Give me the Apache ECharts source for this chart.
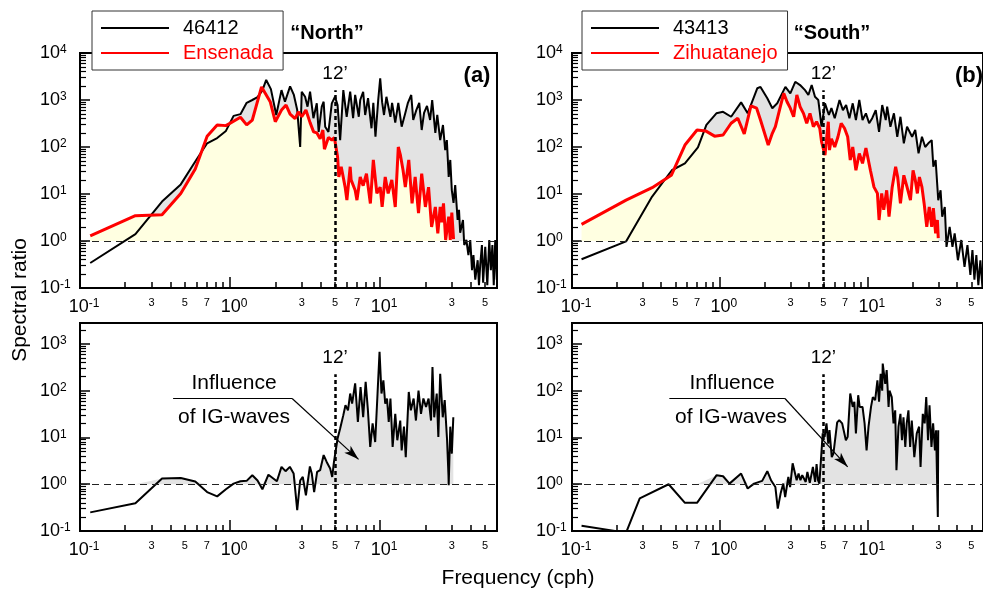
<!DOCTYPE html>
<html>
<head>
<meta charset="utf-8">
<script src="https://cdn.jsdelivr.net/npm/echarts@6/dist/echarts.min.js"></script>
<style>
  html, body { margin: 0; padding: 0; background: #fff; }
  #chart { width: 983px; height: 591px; }
</style>
</head>
<body>
<div id="chart"></div>
<script>
// spectra, [frequency (cph), spectral ratio]
const buoy46412 = [[0.117,0.34],[0.234,1.4],[0.352,6.9],[0.469,16],[0.586,49],[0.703,120],[0.82,155],[0.938,220],[1.055,460],[1.172,500],[1.289,870],[1.406,1000],[1.523,1150],[1.641,1600],[1.74,2670],[1.87,1700],[2.03,480],[2.2,1620],[2.32,920],[2.51,1950],[2.66,1280],[2.8,610],[2.93,100],[3.0,1500],[3.16,1170],[3.28,720],[3.41,1500],[3.59,410],[3.78,850],[3.89,210],[4.08,720],[4.2,920],[4.3,270],[4.52,210],[4.76,850],[5.0,1170],[5.2,780],[5.41,140],[5.68,1620],[5.98,440],[6.31,1500],[6.6,410],[6.81,1280],[7.2,440],[7.36,1000],[7.7,1500],[7.94,480],[8.3,1100],[8.75,250],[9.0,870],[9.3,165],[9.7,1000],[10.0,2900],[10.3,900],[10.6,480],[11.0,1170],[11.7,440],[12.0,870],[12.6,330],[13.2,870],[13.9,270],[14.7,530],[15.3,870],[16.1,1280],[16.6,375],[17.4,610],[18.2,870],[18.9,230],[19.6,530],[20.5,750],[21.5,375],[22.2,1000],[23.3,200],[24.0,480],[25.1,140],[26.2,293],[27.1,86],[27.8,140],[28.6,23],[29.3,53],[30.0,12],[30.8,6.5],[31.6,15.5],[32.8,2.8],[33.5,4.6],[34.1,1.5],[35.6,2.8],[36.3,0.82],[37.5,1.05],[38.7,0.5],[39.8,1.05],[40.9,0.24],[41.8,0.5],[43.0,0.15],[44.6,0.39],[45.5,0.115],[46.4,0.31],[47.6,0.82],[48.5,0.13],[50.1,0.75],[51.7,0.115],[53.3,1.05],[54.6,0.24],[55.9,0.82],[57.1,0.115],[58.4,1.05],[59.8,0.15]];
const ensenada = [[0.117,1.28],[0.234,3.46],[0.352,3.6],[0.469,10.3],[0.586,34],[0.703,170],[0.82,295],[0.938,285],[1.172,430],[1.289,295],[1.406,375],[1.62,1900],[1.85,920],[2.0,345],[2.2,610],[2.36,780],[2.51,500],[2.71,400],[2.85,560],[3.0,440],[3.2,610],[3.41,330],[3.6,210],[3.78,200],[3.98,150],[4.15,230],[4.25,90],[4.52,160],[4.76,140],[4.95,160],[5.2,62],[5.3,23],[5.5,38],[5.84,14],[6.0,7.4],[6.31,38],[6.4,20],[6.81,12],[7.0,7.4],[7.36,23],[7.7,15],[8.1,27],[8.6,6.3],[9.0,53],[9.5,10.3],[10.0,14],[10.3,5.3],[10.8,23],[11.3,10.3],[11.95,20],[12.6,5.3],[13.2,100],[13.6,70],[14.2,32],[14.7,14],[15.5,53],[16.3,6.3],[17.1,23],[18.0,3.9],[18.9,27],[20.0,5.3],[21.0,14],[22.0,2.0],[23.3,5.3],[24.2,1.45],[25.1,5.3],[25.7,2.5],[26.4,6.3],[27.3,1.05],[28.6,3.3],[29.3,1.05],[30.0,4],[30.8,1.1]];
const buoy43413 = [[0.116,0.41],[0.232,0.98],[0.348,8.8],[0.473,32],[0.58,45],[0.71,98],[0.81,295],[0.946,520],[1.05,560],[1.19,440],[1.39,890],[1.54,520],[1.79,1780],[1.88,1900],[2.09,1090],[2.26,670],[2.44,850],[2.77,1900],[2.99,1390],[3.23,2440],[3.48,2080],[3.76,1620],[3.96,1280],[4.17,2080],[4.39,1170],[4.62,1000],[4.73,560],[4.86,270],[5.13,850],[5.45,480],[5.67,670],[5.97,410],[6.43,1000],[6.78,610],[7.13,780],[7.5,410],[7.9,850],[8.3,375],[8.75,1000],[9.2,375],[9.7,520],[10.2,320],[10.7,410],[11.3,610],[11.9,210],[12.5,780],[13.2,375],[13.5,720],[14.2,270],[15.0,520],[15.8,165],[16.6,440],[17.5,120],[18.4,270],[19.9,165],[20.9,230],[22.0,73],[23.2,165],[24.4,100],[25.6,120],[27.0,140],[27.7,38],[28.7,53],[29.9,7.4],[31.0,12],[31.8,3.3],[33.1,5.3],[34.0,0.75],[35.7,2.0],[37.3,0.75],[38.6,1.45],[40.6,0.39],[42.8,1.05],[45.0,0.28],[47.1,0.82],[49.3,0.19],[50.9,0.64],[52.5,0.15],[54.1,0.5],[55.8,0.115],[57.6,0.39],[59.5,0.1]];
const zihuatanejo = [[0.116,2.26],[0.232,7.4],[0.348,13.6],[0.469,25],[0.58,110],[0.70,230],[0.80,220],[0.92,170],[1.05,180],[1.19,320],[1.32,410],[1.46,190],[1.62,750],[1.77,670],[1.88,375],[2.12,110],[2.26,195],[2.37,270],[2.56,720],[2.70,1390],[2.84,920],[2.99,670],[3.15,440],[3.31,1280],[3.48,720],[3.67,520],[3.86,320],[4.06,520],[4.28,270],[4.5,345],[4.73,250],[4.86,130],[5.13,67],[5.4,345],[5.5,86],[5.67,150],[5.97,100],[6.28,165],[6.6,320],[6.95,250],[7.3,165],[7.6,53],[7.9,100],[8.3,32],[8.75,73],[9.2,45],[9.7,95],[10.4,32],[11.0,14],[11.6,10.3],[11.9,2.8],[12.4,10.3],[12.8,4.6],[13.4,12],[13.9,3.3],[14.6,14],[15.4,38],[15.9,23],[16.6,6.3],[17.5,25],[18.4,14],[19.4,7.4],[20.2,32],[20.9,20],[21.6,10.3],[22.3,23],[23.2,14],[24.0,6.3],[25.0,2.0],[26.0,5.3],[27.0,2.0],[27.7,5.0],[28.7,1.45],[29.5,2.8],[29.9,1.15]];
const ratioNorth = [[0.117,0.25],[0.234,0.39],[0.352,1.32],[0.469,1.36],[0.586,1.14],[0.703,0.68],[0.82,0.55],[0.938,0.78],[1.055,1.03],[1.172,1.16],[1.289,1.18],[1.406,1.56],[1.523,1.2],[1.641,0.78],[1.8,1.6],[2.05,1.16],[2.2,2.35],[2.34,1.9],[2.5,2.35],[2.65,1.7],[2.8,0.28],[2.93,1.2],[3.05,1.43],[3.2,0.58],[3.4,2.4],[3.5,1.7],[3.63,0.68],[3.8,1.83],[3.98,2.0],[4.2,4.2],[4.4,3.0],[4.64,2.17],[4.79,1.43],[4.92,3.0],[5.2,9.5],[5.41,15.5],[5.68,30],[5.87,49],[6.1,38],[6.31,87],[6.5,53],[6.81,143],[7.1,21.5],[7.4,120],[7.7,27],[8.0,154],[8.27,41],[8.58,6.3],[8.9,20],[9.26,8.0],[9.6,87],[9.9,680],[10.2,87],[10.5,167],[10.8,53],[11.1,68],[11.4,21.5],[11.7,68],[12.1,6.3],[12.6,32],[13.0,8.7],[13.6,23],[13.9,5.3],[14.4,17],[14.8,3.8],[15.5,94],[16.0,38],[16.7,68],[17.3,23],[18.0,100],[18.7,32],[19.4,68],[20.2,45],[21.0,68],[21.8,23],[22.3,320],[22.9,27],[23.8,87],[24.4,10.3],[25.1,230],[26.1,27],[26.9,63],[27.9,8.7],[28.5,1.56],[28.6,0.95],[29.3,17],[30.0,4.5],[30.7,27]];
const ratioSouth = [[0.116,0.13],[0.232,0.092],[0.287,0.5],[0.45,1.0],[0.58,0.40],[0.70,0.40],[0.95,1.56],[1.05,1.48],[1.16,1.03],[1.39,1.69],[1.54,0.81],[1.7,1.03],[1.93,1.18],[2.09,1.9],[2.22,1.2],[2.37,0.87],[2.46,0.30],[2.57,0.63],[2.68,1.03],[2.76,0.53],[2.9,1.43],[2.98,0.87],[3.1,2.8],[3.3,1.22],[3.4,1.69],[3.5,1.22],[3.6,1.56],[3.8,1.12],[3.9,1.83],[4.05,1.07],[4.25,2.35],[4.4,1.12],[4.5,2.7],[4.6,1.22],[4.7,1.03],[4.95,12.2],[5.1,10.3],[5.25,20],[5.4,7.4],[5.5,14.3],[5.7,3.8],[5.85,4.5],[6.2,21],[6.4,23.4],[6.7,20],[7.1,8.7],[7.3,10.3],[7.6,87],[7.9,45],[8.1,58],[8.3,12.2],[8.6,80],[8.8,45],[9.2,45],[9.5,20],[9.8,5.3],[10.1,17],[10.5,45],[10.8,73],[11.2,63],[11.6,167],[11.9,58],[12.2,230],[12.5,100],[12.6,380],[13.1,140],[13.4,275],[13.8,45],[14.0,100],[14.5,73],[14.9,20],[15.3,38],[15.6,2.0],[16.1,17],[16.6,32],[17.0,8.7],[17.4,27],[17.9,6.3],[18.3,20],[18.8,38],[19.3,6.3],[19.8,23],[20.6,3.8],[21.4,12.2],[22.2,17],[22.7,2.35],[23.5,32],[24.2,20],[24.8,73],[25.5,8.7],[26.1,49],[26.9,6.3],[27.6,20],[28.4,5.3],[28.9,14.3],[29.7,0.2],[29.9,14.3]];

// axes (cph / ratio)
const xRange = [0.1, 60];
const yRangeTop = [0.1, 10000];
const yRangeBottom = [0.1, 2800];
const xMajorTicks = [0.1, 1, 10];
const xMinorLabels = [0.3, 0.5, 0.7, 3, 5, 7, 30, 50];
const yMajorTop = [0.1, 1, 10, 100, 1000, 10000];
const yMajorBottom = [0.1, 1, 10, 100, 1000];
const mantissas = [2, 3, 4, 5, 6, 7, 8, 9];

// annotations
const period12 = 5;               // 12 min period, cph
const period12TopEnd = 1620;      // dotted line stops here (top panels)
const period12BottomEnd = 225;    // (bottom panels)
const igPointerNorth = [[0.417, 68], [2.59, 68], [7.17, 3.4]];
const igPointerSouth = [[0.455, 68], [2.75, 68], [7.3, 2.35]];

const FONT = '"Liberation Sans", Arial, Helvetica, sans-serif';
const lg = Math.log10;
const toLog = pts => pts.map(p => [lg(p[0]), lg(p[1])]);
const toFill = pts => pts.map(p => [lg(p[0]), Math.max(lg(p[1]), 0)]);
const minorOf = (decades, maxV) => decades.flatMap(d => mantissas.map(m => m * d)).filter(v => v <= maxV);

const supLabel = v => '{b|10}{s|' + Math.round(v) + '}';
const supRich = padLeft => ({
  b: { fontSize: 18, fontFamily: FONT, color: '#000', padding: [0, 0, 0, padLeft] },
  s: { fontSize: 12, fontFamily: FONT, color: '#000', padding: [0, 0, 6, 0] }
});

const grids = [
  { left: 80, top: 53, width: 417, height: 235 },
  { left: 572, top: 53, width: 418, height: 235 },
  { left: 80, top: 323, width: 417, height: 208 },
  { left: 572, top: 323, width: 418, height: 208 }
].map(g => Object.assign(g, { show: true, borderColor: '#000', borderWidth: 2, backgroundColor: 'transparent' }));

const xAxes = [];
const yAxes = [];
grids.forEach((g, i) => {
  const top = i < 2;
  const yMajor = top ? yMajorTop : yMajorBottom;
  const yRange = top ? yRangeTop : yRangeBottom;
  const xBase = {
    gridIndex: i, type: 'value', min: lg(xRange[0]), max: lg(xRange[1]), position: 'bottom',
    splitLine: { show: false }
  };
  xAxes.push(Object.assign({}, xBase, {
    axisLine: { show: true, onZero: false, lineStyle: { color: '#000', width: 2 } },
    axisTick: { show: true, inside: true, length: 11, lineStyle: { color: '#000', width: 1.5 }, customValues: xMajorTicks.map(lg) },
    axisLabel: { customValues: xMajorTicks.map(lg), formatter: supLabel, rich: supRich(8), margin: 10 }
  }));
  xAxes.push(Object.assign({}, xBase, {
    axisLine: { show: false, onZero: false },
    axisTick: { show: true, inside: true, length: 6, lineStyle: { color: '#000', width: 1.5 }, customValues: minorOf([0.1, 1, 10], xRange[1]).map(lg) },
    axisLabel: { customValues: xMinorLabels.map(lg), formatter: v => String(Math.round(Math.pow(10, v) * 10) / 10).replace(/^0\./, '').replace(/^(\d)0$/, '$1'), fontSize: 11, fontFamily: FONT, color: '#000', margin: 9 }
  }));
  const yBase = {
    gridIndex: i, type: 'value', min: lg(yRange[0]), max: lg(yRange[1]), position: 'left',
    splitLine: { show: false }
  };
  yAxes.push(Object.assign({}, yBase, {
    axisLine: { show: true, onZero: false, lineStyle: { color: '#000', width: 2 } },
    axisTick: { show: true, inside: true, length: 10, lineStyle: { color: '#000', width: 1.5 }, customValues: yMajor.map(lg) },
    axisLabel: { customValues: yMajor.map(lg), formatter: supLabel, rich: supRich(0), align: 'left', margin: i % 2 ? 36 : 40 }
  }));
  yAxes.push(Object.assign({}, yBase, {
    axisLine: { show: false, onZero: false },
    axisTick: { show: true, inside: true, length: 6, lineStyle: { color: '#000', width: 1.2 }, customValues: minorOf([0.1, 1, 10, 100, 1000], yRange[1]).map(lg) },
    axisLabel: { show: false }
  }));
});

const unityLine = { yAxis: lg(1), lineStyle: { type: [7, 5], width: 1, color: '#222' }, label: { show: false } };
const periodLine = topEnd => [
  { coord: [lg(period12), lg(0.1)], lineStyle: { type: [4, 3], width: 2.5, color: '#000' },
    label: { show: true, position: 'end', formatter: '12’', fontSize: 19, fontFamily: FONT, color: '#000', distance: 7 } },
  { coord: [lg(period12), lg(topEnd)] }
];
const pointer = pts => {
  const st = { type: 'solid', width: 1.2, color: '#000' };
  return [
    [{ coord: [lg(pts[0][0]), lg(pts[0][1])], lineStyle: st, label: { show: false } }, { coord: [lg(pts[1][0]), lg(pts[1][1])] }],
    [{ coord: [lg(pts[1][0]), lg(pts[1][1])], lineStyle: st, label: { show: false } }, { coord: [lg(pts[2][0]), lg(pts[2][1])], symbol: 'arrow', symbolSize: [7, 15] }]
  ];
};

const fillSeries = (name, pts, idx, color) => ({
  name: name, type: 'line', xAxisIndex: 2 * idx, yAxisIndex: 2 * idx, data: toFill(pts),
  symbol: 'none', lineStyle: { width: 0 }, areaStyle: { origin: 0, color: color, opacity: 1 },
  z: 1, silent: true
});
const lineSeries = (name, pts, idx, color, width, extra) => Object.assign({
  name: name, type: 'line', xAxisIndex: 2 * idx, yAxisIndex: 2 * idx, data: toLog(pts),
  symbol: 'none', color: color, lineStyle: { color: color, width: width }, z: 3
}, extra || {});
const marks = data => ({ markLine: { silent: true, symbol: ['none', 'none'], animation: false, data: data } });

const GREY = '#e3e3e3';
const YELLOW = '#ffffe1';

const series = [
  fillSeries('g1', buoy46412, 0, GREY),
  fillSeries('y1', ensenada, 0, YELLOW),
  lineSeries('46412', buoy46412, 0, '#000', 2, marks([unityLine, periodLine(period12TopEnd)])),
  lineSeries('Ensenada', ensenada, 0, '#ff0000', 3),
  fillSeries('g2', buoy43413, 1, GREY),
  fillSeries('y2', zihuatanejo, 1, YELLOW),
  lineSeries('43413', buoy43413, 1, '#000', 2, marks([unityLine, periodLine(period12TopEnd)])),
  lineSeries('Zihuatanejo', zihuatanejo, 1, '#ff0000', 3),
  fillSeries('g3', ratioNorth, 2, GREY),
  lineSeries('ratio north', ratioNorth, 2, '#000', 2, marks([unityLine, periodLine(period12BottomEnd)].concat(pointer(igPointerNorth)))),
  fillSeries('g4', ratioSouth, 3, GREY),
  lineSeries('ratio south', ratioSouth, 3, '#000', 2, marks([unityLine, periodLine(period12BottomEnd)].concat(pointer(igPointerSouth))))
];

const legendBase = {
  orient: 'vertical', top: 11, itemWidth: 68, itemHeight: 14, itemGap: 5,
  padding: [7, 10, 7, 8], borderColor: '#333', borderWidth: 1, backgroundColor: '#fff',
  selectedMode: false, itemStyle: { opacity: 0 },
  textStyle: { fontSize: 20, fontFamily: FONT, color: '#000', padding: [0, 0, 0, 9] }
};

const txt = (text, x, y, size, bold, extra) => Object.assign({
  type: 'text', x: x, y: y, silent: true, z: 10,
  style: { text: text, font: (bold ? 'bold ' : '') + size + 'px ' + FONT, fill: '#000', align: 'center', verticalAlign: 'middle' }
}, extra || {});

const chart = echarts.init(document.getElementById('chart'), null, { renderer: 'canvas' });
chart.setOption({
  animation: false,
  backgroundColor: '#fff',
  grid: grids,
  xAxis: xAxes,
  yAxis: yAxes,
  legend: [
    Object.assign({}, legendBase, { left: 92, data: ['46412', { name: 'Ensenada', textStyle: { color: '#ff0000' } }] }),
    Object.assign({}, legendBase, { left: 582, data: ['43413', { name: 'Zihuatanejo', textStyle: { color: '#ff0000' } }] })
  ],
  graphic: [
    txt('“North”', 327, 33, 20, true),
    txt('“South”', 832, 33, 20, true),
    txt('(a)', 477, 76, 22, true),
    txt('(b)', 969, 76, 22, true),
    txt('Influence', 234, 383, 21, false),
    txt('of IG-waves', 234, 417, 21, false),
    txt('Influence', 732, 383, 21, false),
    txt('of IG-waves', 731, 417, 21, false),
    txt('Spectral ratio', 20, 300, 21, false, { rotation: Math.PI / 2 }),
    txt('Frequency (cph)', 518, 578, 21, false)
  ],
  series: series
});
</script>
</body>
</html>
